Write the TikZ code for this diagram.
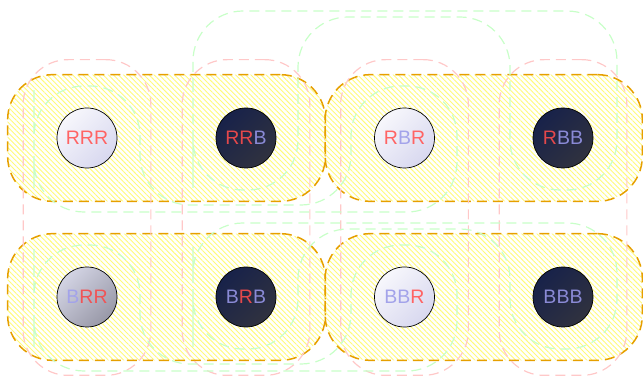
\documentclass[tikz,border=0pt]{standalone}
\usepackage{fontspec}
\setmainfont{Liberation Sans}
\usetikzlibrary{positioning,fit,backgrounds,patterns.meta}
\definecolor{cubeorange}{HTML}{E69F00}
\definecolor{cubepink}{HTML}{FFC8C8}
\definecolor{cubegreen}{HTML}{C8FFC8}
\definecolor{cubehatch}{HTML}{FFFA7A}
\definecolor{balllighttop}{HTML}{F7F7FC}
\definecolor{balllightbot}{HTML}{D8D8EF}
\definecolor{balldarktop}{HTML}{18224A}
\definecolor{balldarkbot}{HTML}{30323F}
\definecolor{ballgreytop}{HTML}{D3D4E4}
\definecolor{ballgreybot}{HTML}{9898A7}
\definecolor{redlight}{HTML}{FF6464}
\definecolor{bluelight}{HTML}{A3A3EA}
\definecolor{redgrey}{HTML}{F05456}
\definecolor{reddark}{HTML}{E4484B}
\definecolor{bluedark}{HTML}{8A8AD6}
\colorlet{letr}{redlight}
\colorlet{letb}{bluelight}
\newcommand{\chR}{\textcolor{letr}{R}}
\newcommand{\chB}{\textcolor{letb}{B}}
\tikzstyle{ball} = [circle, draw=black, line width=0.7pt, minimum size=60pt, inner sep=0pt, font=\fontsize{19.5}{20}\selectfont]
\tikzstyle{lightball} = [ball, top color=balllighttop, bottom color=balllightbot, shading angle=45]
\tikzstyle{darkball} = [ball, top color=balldarktop, bottom color=balldarkbot, shading angle=45, execute at begin node={\colorlet{letr}{reddark}\colorlet{letb}{bluedark}}]
\tikzstyle{greyball} = [ball, top color=ballgreytop, bottom color=ballgreybot, shading angle=45, execute at begin node={\colorlet{letr}{redgrey}}]
\tikzstyle{hedge} = [rounded corners=45pt, dash pattern=on 10pt off 6pt]
\tikzstyle{hedgethird} = [hedge, draw=cubeorange, line width=1.5pt, pattern={Lines[angle=-45,distance=3.6pt,line width=0.9pt]}, pattern color=cubehatch, inner xsep=49pt, inner ysep=33pt]
\tikzstyle{hedgefirst} = [hedge, draw=cubepink, line width=1.2pt, inner xsep=33.5pt, inner ysep=48pt]
\tikzstyle{hedgesecond} = [rounded corners=50pt, dash pattern=on 10pt off 6pt, draw=cubegreen, line width=1.2pt]

\begin{document}
\begin{tikzpicture}[x=1pt, y=-1pt]
\useasboundingbox (0,0) rectangle (643,379);

\foreach \n/\x/\y/\s/\t in {rrr/87/138/lightball/\chR\chR\chR, rrb/246/138/darkball/\chR\chR\chB,
    rbr/404.5/138/lightball/\chR\chB\chR, rbb/563/138/darkball/\chR\chB\chB,
    brr/87/297/greyball/\chB\chR\chR, brb/246/297/darkball/\chB\chR\chB,
    bbr/404.5/297/lightball/\chB\chB\chR, bbb/563/297/darkball/\chB\chB\chB}
  \node[\s] (\n) at (\x,\y) {\t};

\begin{scope}[on background layer]
\foreach \a/\b in {rrr/rrb, rbr/rbb, brr/brb, bbr/bbb}
  \node[hedgethird, fit=(\a)(\b)] (third-\a) {};
\foreach \a/\b in {rrr/brr, rrb/brb, rbr/bbr, rbb/bbb}
  \node[hedgefirst, fit=(\a)(\b)] (first-\a) {};
\foreach \c/\t/\b in {138/11/212, 297/223/371} {
  \draw[hedgesecond] (193,\c) |- (617,\t) |- (510,{\c+52}) |- (298,{\t+6}) |- (193,{\c+52}) -- cycle;
  \draw[hedgesecond] (34,\c) |- (457,\b) |- (351,{\c-52}) |- (140,{\b-7}) |- (34,{\c-52}) -- cycle;
}
\end{scope}
\end{tikzpicture}
\end{document}
